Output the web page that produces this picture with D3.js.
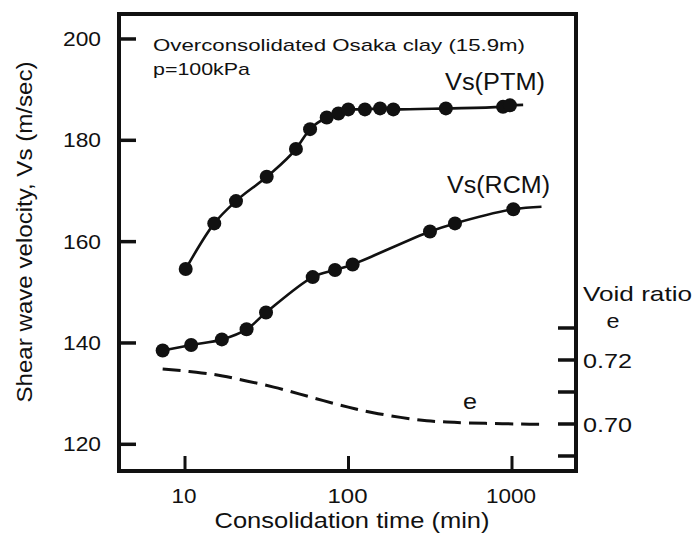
<!DOCTYPE html>
<html>
<head>
<meta charset="utf-8">
<script src="https://cdn.jsdelivr.net/npm/d3@7"></script>
<style>
  body { margin: 0; background: #fff; }
  text { font-family: "Liberation Sans", Arial, sans-serif; fill: #111; }
</style>
</head>
<body>
<svg id="chart" width="695" height="546"></svg>
<script>
// Vs measured with the pulse transmission method
const ptmTime = [10.1, 15.1, 20.5, 31.6, 47.7, 58.2, 73.6, 86.7, 99.7, 126, 156, 188, 394, 881, 972];
const ptmVs = [154.6, 163.6, 168.0, 172.8, 178.3, 182.2, 184.5, 185.3, 186.1, 186.1, 186.3, 186.1, 186.3, 186.6, 186.9];
const ptmTail = [1170, 187.0];

// Vs measured with the resonant column method
const rcmTime = [7.3, 10.9, 16.8, 23.8, 31.3, 60.4, 82.7, 106, 315, 448, 1019];
const rcmVs = [138.5, 139.6, 140.7, 142.7, 146.0, 153.0, 154.4, 155.5, 162.0, 163.6, 166.4];
const rcmTail = [1515, 166.9];

// void ratio curve (right axis)
const eTime = [7.3, 12, 17, 24, 35, 50, 70, 100, 140, 210, 300, 440, 640, 1470];
const eVoid = [0.7172, 0.7162, 0.7151, 0.7134, 0.7116, 0.7094, 0.7073, 0.7052, 0.7035, 0.7020, 0.7009, 0.7005, 0.7002, 0.6999];

const vsTicks = [120, 140, 160, 180, 200];
const timeTicks = [10, 100, 1000];
const eTicks = [0.69, 0.70, 0.71, 0.72, 0.73];
const eTickLabels = ["0.70", "0.72"];

const plotLeft = 119, plotRight = 576, plotTop = 14, plotBottom = 471;

const svg = d3.select('#chart');

let x = d3.scaleLog().domain([3.947, 2463]).range([plotLeft, plotRight]);
let y = d3.scaleLinear().domain([114.73, 204.93]).range([plotBottom, plotTop]);
let yE = d3.scaleLinear().domain([0.68531, 0.828125]).range([plotBottom, plotTop]);

function label(px, py, str, size, len, anchor) {
  return svg.append('text')
    .attr('x', px).attr('y', py)
    .attr('font-size', size)
    .attr('text-anchor', anchor || 'start')
    .attr('textLength', len)
    .attr('lengthAdjust', 'spacingAndGlyphs')
    .text(str);
}

// left axis ticks (inward)
vsTicks.forEach((v) => {
  svg.append('line')
    .attr('x1', plotLeft).attr('x2', plotLeft + 17)
    .attr('y1', y(v)).attr('y2', y(v))
    .attr('stroke', '#111').attr('stroke-width', 3.5);
  label(101, y(v) + 7, String(v), 20, 38, 'end');
});

// bottom axis ticks (inward)
let tickLens = { 10: 25, 100: 40, 1000: 50 };
timeTicks.forEach((t) => {
  svg.append('line')
    .attr('x1', x(t)).attr('x2', x(t))
    .attr('y1', plotBottom).attr('y2', plotBottom - 15)
    .attr('stroke', '#111').attr('stroke-width', 3);
  label(x(t) - 1, 503, String(t), 21, tickLens[t], 'middle');
});

// right axis ticks (inward)
eTicks.forEach((e) => {
  svg.append('line')
    .attr('x1', plotRight - 18).attr('x2', plotRight)
    .attr('y1', yE(e)).attr('y2', yE(e))
    .attr('stroke', '#111').attr('stroke-width', 3.5);
});
eTickLabels.forEach((s) => {
  label(583, yE(+s) + 8, s, 21, 49);
});

// frame
svg.append('rect')
  .attr('x', plotLeft).attr('y', plotTop)
  .attr('width', plotRight - plotLeft).attr('height', plotBottom - plotTop)
  .attr('fill', 'none').attr('stroke', '#111').attr('stroke-width', 4);

// curves
let lineGen = d3.line()
  .x((d) => x(d[0]))
  .y((d) => y(d[1]))
  .curve(d3.curveMonotoneX);

let ptmData = ptmTime.map((t, i) => [t, ptmVs[i]]);
let rcmData = rcmTime.map((t, i) => [t, rcmVs[i]]);

svg.append('path')
  .attr('d', lineGen(ptmData.concat([ptmTail])))
  .attr('fill', 'none').attr('stroke', '#111').attr('stroke-width', 2.6);
svg.append('path')
  .attr('d', lineGen.curve(d3.curveCatmullRom.alpha(0.5))(rcmData.concat([rcmTail])))
  .attr('fill', 'none').attr('stroke', '#111').attr('stroke-width', 2.6);

let eLine = d3.line()
  .x((d) => x(d[0]))
  .y((d) => yE(d[1]))
  .curve(d3.curveBasis);
svg.append('path')
  .attr('d', eLine(eTime.map((t, i) => [t, eVoid[i]])))
  .attr('fill', 'none').attr('stroke', '#111')
  .attr('stroke-width', 3).attr('stroke-dasharray', '18 8');

// points
ptmData.concat(rcmData).forEach((d) => {
  svg.append('circle')
    .attr('cx', x(d[0])).attr('cy', y(d[1]))
    .attr('r', 7).attr('fill', '#111');
});

// texts
label(153, 51, 'Overconsolidated Osaka clay (15.9m)', 17, 372);
label(153, 75, 'p=100kPa', 17, 97);
label(445, 90, 'Vs(PTM)', 23, 100);
label(447, 193, 'Vs(RCM)', 23, 103);
label(470, 409, 'e', 22, 14, 'middle');
label(583, 301, 'Void ratio', 21, 109);
label(613, 328, 'e', 21, 13, 'middle');
label(352, 528, 'Consolidation time (min)', 22, 275, 'middle');

svg.append('text')
  .attr('transform', 'translate(32,232) rotate(-90)')
  .attr('font-size', 22)
  .attr('text-anchor', 'middle')
  .attr('textLength', 341)
  .attr('lengthAdjust', 'spacingAndGlyphs')
  .text('Shear wave velocity, Vs (m/sec)');
</script>
</body>
</html>
